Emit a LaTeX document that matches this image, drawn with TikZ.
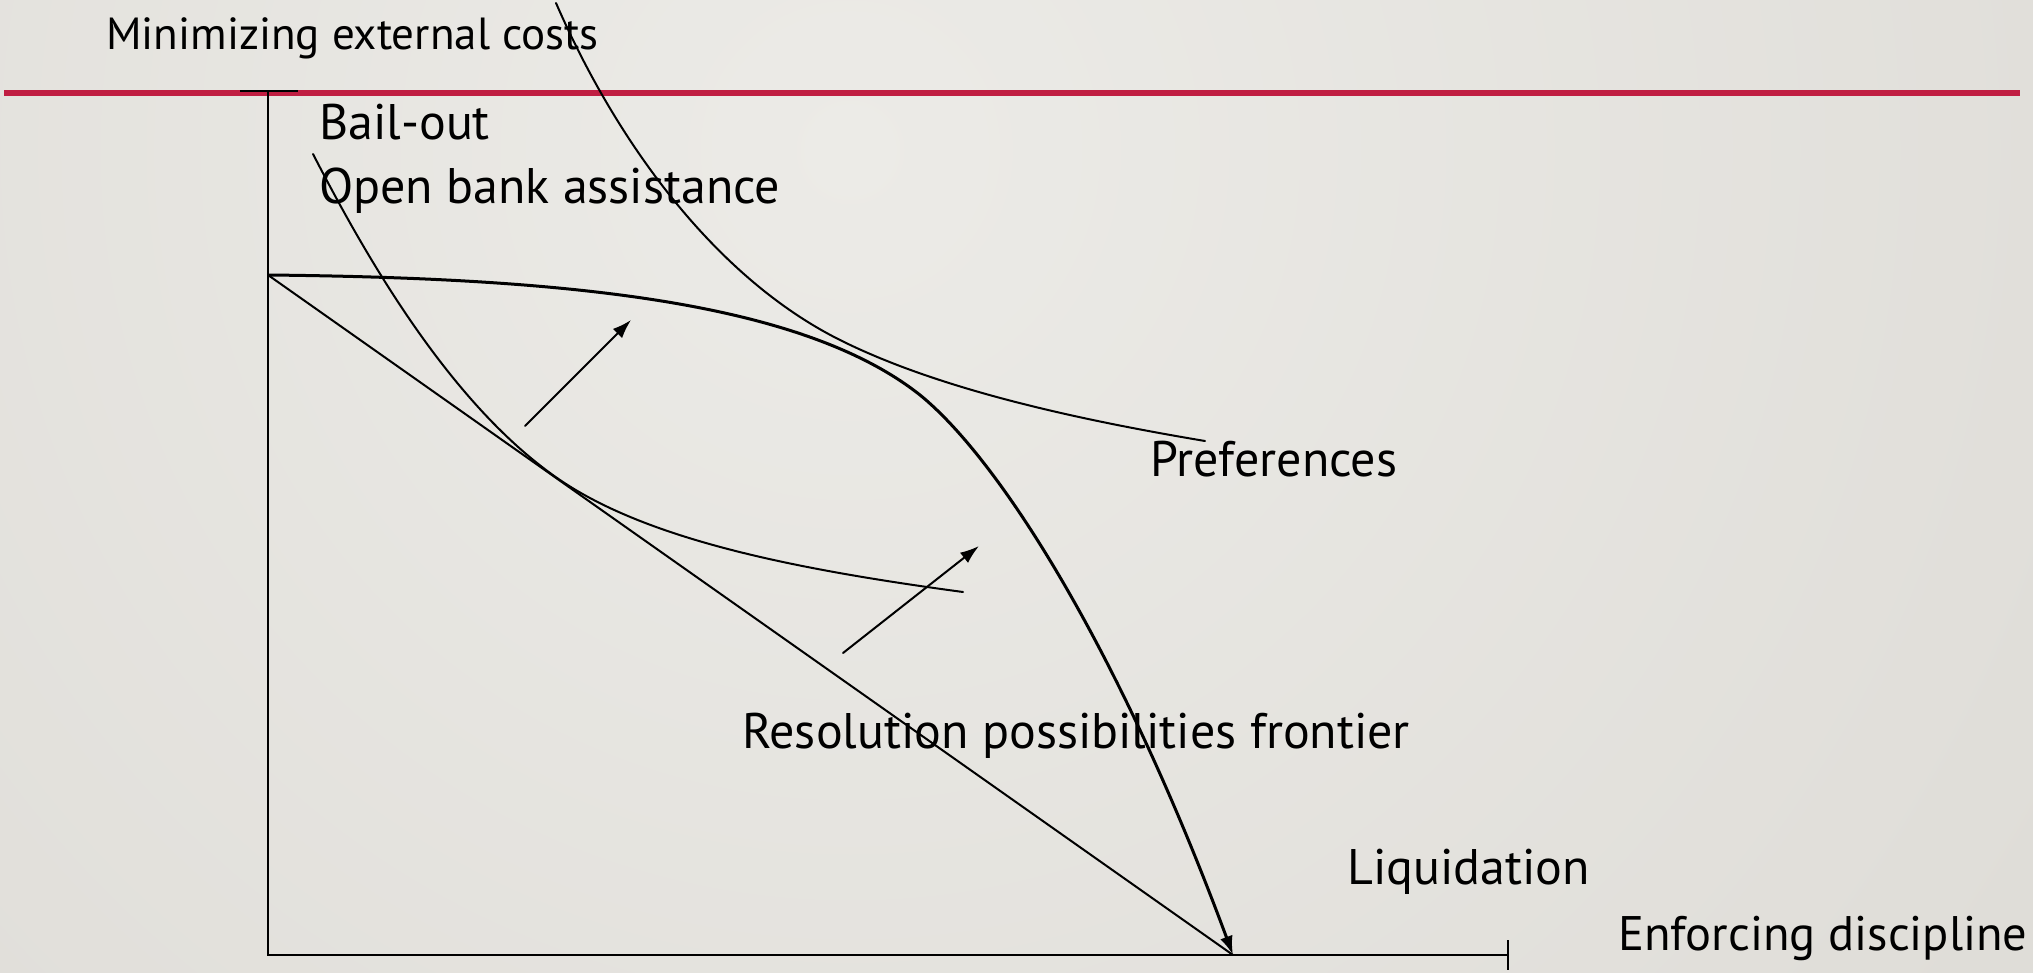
\documentclass[tikz,border=0pt]{standalone}
\usepackage{fontspec}
\setmainfont{PT Sans}
\usetikzlibrary{arrows.meta}
\definecolor{bgL}{RGB}{236,235,231}
\definecolor{bgD}{RGB}{212,209,203}
\definecolor{rulered}{RGB}{192,30,66}
\begin{document}
\begin{tikzpicture}[x=1pt,y=-1pt,
  lbl/.style={anchor=base west, inner sep=0pt, font=\fontsize{50}{56}\selectfont},
  ttl/.style={anchor=base west, inner sep=0pt, font=\fontsize{45}{50}\selectfont},
  fine/.style={line width=2pt, line cap=round},
  front/.style={line width=3pt},
  tip/.style={-{Latex[length=19pt,width=13pt]}}]
\useasboundingbox (0,0) rectangle (2033,973);
\begin{scope}
\clip (0,0) rectangle (2033,973);
\shade[inner color=bgL, outer color=bgD] (850,150) circle (2600);
\end{scope}

% title and rule
\node[ttl] (title) at (106,50) {Minimizing external costs};
\coordinate (RL) at (4,93);
\coordinate (RR) at (2020,93);
\draw[rulered, line width=6pt] (RL) -- (RR);

% axes
\coordinate (Ytop) at (268,92);
\coordinate (O) at (268,955);
\coordinate (Xend) at (1508,955);
\coordinate (TL) at (240,91);
\coordinate (TR) at (298,91);
\coordinate (XT1) at (1508,940);
\coordinate (XT2) at (1508,970);
\draw[fine, line cap=butt] (Ytop) -- (O) -- (Xend);
\draw[line width=2.5pt] (TL) -- (TR);
\draw[fine, line cap=butt] (XT1) -- (XT2);

% resolution possibilities frontier
\coordinate (F0) at (268,275);
\coordinate (FM) at (920,395);
\coordinate (L) at (1233,955);
\draw[front, tip] (F0) .. controls (560,278) and (800,300) .. (FM)
                       .. controls (1000,460) and (1120,650) .. (L);
\draw[fine] (F0) -- (L);

% preference curves
\coordinate (P1a) at (556,3);
\coordinate (P1m) at (840,340);
\coordinate (P1b) at (1205,441);
\draw[fine] (P1a) .. controls (620,150) and (720,280) .. (P1m)
                  .. controls (940,390) and (1080,420) .. (P1b);
\coordinate (P2a) at (313,154);
\coordinate (P2m) at (560,480);
\coordinate (P2b) at (963,592);
\draw[fine] (P2a) .. controls (365,255) and (450,405) .. (P2m)
                  .. controls (650,541) and (800,570) .. (P2b);

% shift arrows
\coordinate (A1s) at (525,426);
\coordinate (A1e) at (631,320);
\coordinate (A2s) at (843,653);
\coordinate (A2e) at (979,546);
\draw[fine, tip] (A1s) -- (A1e);
\draw[fine, tip] (A2s) -- (A2e);

% labels
\node[lbl] (bail) at (319,140) {Bail-out};
\node[lbl] (oba) at (319,204) {Open bank assistance};
\node[lbl] (pref) at (1150,476) {Preferences};
\node[lbl] (rpf) at (742,748) {Resolution possibilities frontier};
\node[lbl] (liq) at (1347,884) {Liquidation};
\node[lbl, font=\fontsize{48.5}{54}\selectfont] (enf) at (1618,950) {Enforcing discipline};
\end{tikzpicture}
\end{document}
